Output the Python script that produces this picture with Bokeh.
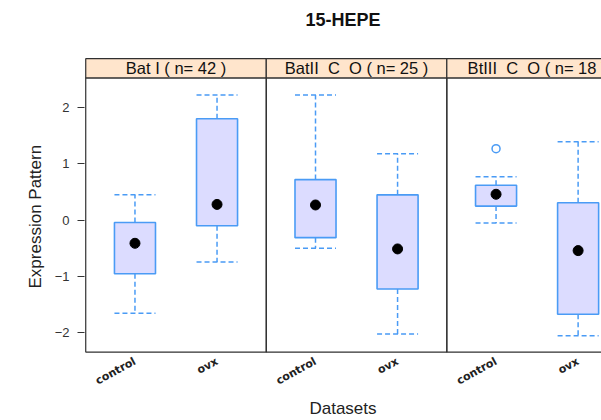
from bokeh.plotting import figure
from bokeh.models import Range1d, FixedTicker, ColumnDataSource, Label, Title
from bokeh.core.properties import value
from bokeh.embed import file_html
from bokeh.resources import INLINE

# ---- data ----
panels = ["Bat I ( n= 42 )", "BatII\u00a0 C\u00a0 O ( n= 25 )", "BtIII\u00a0 C\u00a0 O ( n= 18 )"]
groups = ["control", "ovx"]
# one entry per box, panel-major order: (Bat I control, Bat I ovx, BatII control, ...)
box_panel = [0, 0, 1, 1, 2, 2]
box_group = [0, 1, 0, 1, 0, 1]
whisker_low = [-1.65, -0.74, -0.50, -2.02, -0.05, -2.05]
q1 = [-0.95, -0.10, -0.31, -1.22, 0.25, -1.67]
median = [-0.41, 0.28, 0.27, -0.51, 0.46, -0.54]
q3 = [-0.04, 1.80, 0.72, 0.45, 0.62, 0.31]
whisker_high = [0.45, 2.22, 2.22, 1.18, 0.77, 1.39]
outlier_panel = [2]
outlier_group = [0]
outlier_value = [1.27]

# ---- layout constants ----
PW = 2.2          # width of one panel in x units
OFF = 0.6         # first category offset inside a panel
BW = 0.5          # box width
Y_LO, Y_HI = -2.34, 2.524   # panel limits
STRIP_TOP = 2.867
X0, X1 = -0.015, 6.285
Y0, Y1 = -2.366, 3.899      # frame spans from canvas top to the x axis
PX_PER_Y = 56.5
TITLE_Y = Y1 - 20 / PX_PER_Y

BLUE = "#4A9BF5"
FILL = "#DCDCFF"
BORDER = "#303030"
FONT = "Liberation Sans"

def xpos(p, g):
    return p * PW + OFF + g

xs = [xpos(p, g) for p, g in zip(box_panel, box_group)]

p = figure(width=601, height=420, output_backend="svg", toolbar_location=None,
           title=None,
           x_range=Range1d(X0, X1), y_range=Range1d(Y0, Y1),
           min_border_left=84, min_border_right=0, min_border_top=0,
           min_border_bottom=66)
p.outline_line_color = None
p.xgrid.visible = False
p.ygrid.visible = False
p.background_fill_color = "white"
p.border_fill_color = "white"

# title
p.add_layout(Label(x=(X0 + X1) / 2, y=TITLE_Y, text="15-HEPE",
                   text_align="center", text_baseline="middle",
                   text_font=FONT, text_font_size="18px", text_font_style="bold",
                   text_color="#111111"))

# panels and strips
n = len(panels)
pl = [i * PW for i in range(n)]
pr = [(i + 1) * PW for i in range(n)]
p.quad(left=pl, right=pr, bottom=[Y_LO] * n, top=[Y_HI] * n,
       fill_color=None, line_color=BORDER, line_width=1.2)
p.quad(left=pl, right=pr, bottom=[Y_HI] * n, top=[STRIP_TOP] * n,
       fill_color="#FFE5CC", line_color=BORDER, line_width=1.2)
p.text(x=[(a + b) / 2 for a, b in zip(pl, pr)], y=[(Y_HI + STRIP_TOP) / 2] * n,
       text=panels, text_align="center", text_baseline="middle",
       text_font=value(FONT), text_font_size="16.5px", text_color="#111111")

src = ColumnDataSource(dict(
    x=xs, lo=whisker_low, q1=q1, med=median, q3=q3, hi=whisker_high,
    left=[x - BW / 2 for x in xs], right=[x + BW / 2 for x in xs]))

# whiskers (dashed)
p.segment(x0="x", y0="q3", x1="x", y1="hi", source=src,
          line_color=BLUE, line_width=1.5, line_dash="5 3")
p.segment(x0="x", y0="q1", x1="x", y1="lo", source=src,
          line_color=BLUE, line_width=1.5, line_dash="5 3")
p.segment(x0="left", y0="hi", x1="right", y1="hi", source=src,
          line_color=BLUE, line_width=1.5, line_dash="5 3")
p.segment(x0="left", y0="lo", x1="right", y1="lo", source=src,
          line_color=BLUE, line_width=1.5, line_dash="5 3")
# boxes
p.quad(left="left", right="right", bottom="q1", top="q3", source=src,
       fill_color=FILL, line_color=BLUE, line_width=1.6)
# medians
p.scatter(x="x", y="med", source=src, size=10, marker="circle",
          fill_color="black", line_color="black")
# outliers
p.scatter(x=[xpos(a, b) for a, b in zip(outlier_panel, outlier_group)], y=outlier_value,
          size=8, marker="circle", fill_color=None, line_color=BLUE, line_width=1.5)

# y axis
ya = p.yaxis[0]
ya.ticker = FixedTicker(ticks=[-2, -1, 0, 1, 2])
ya.axis_line_color = None
ya.major_tick_out = 7
ya.major_tick_in = 0
ya.minor_tick_line_color = None
ya.major_tick_line_color = "#333333"
ya.major_label_standoff = 8
ya.major_label_text_font = FONT
ya.major_label_text_font_size = "13px"
ya.major_label_text_color = "#333333"

# y axis title, centred on the panel area rather than the whole frame
p.add_layout(Title(text="Expression Pattern", align="left", offset=65,
                   standoff=14, vertical_align="bottom",
                   text_font=FONT, text_font_size="17px",
                   text_font_style="normal", text_color="#222222"), "left")

# x axis
tick_pos = [xpos(pi, g) for pi in range(n) for g in range(len(groups))]
xa = p.xaxis[0]
xa.ticker = FixedTicker(ticks=tick_pos)
xa.major_label_overrides = {t: groups[i % len(groups)] for i, t in enumerate(tick_pos)}
xa.axis_line_color = None
xa.major_tick_line_color = None
xa.minor_tick_line_color = None
xa.major_tick_out = 0
xa.major_tick_in = 0
xa.major_label_standoff = 7
xa.major_label_orientation = 0.5
xa.major_label_text_font = "DejaVu Sans"
xa.major_label_text_font_style = "bold"
xa.major_label_text_font_size = "11px"
xa.major_label_text_color = "#222222"
xa.axis_label = "Datasets"
xa.axis_label_text_font = FONT
xa.axis_label_text_font_size = "17px"
xa.axis_label_text_font_style = "normal"
xa.axis_label_text_color = "#222222"
xa.axis_label_standoff = 3

open("out.html", "w").write(file_html(p, INLINE))
